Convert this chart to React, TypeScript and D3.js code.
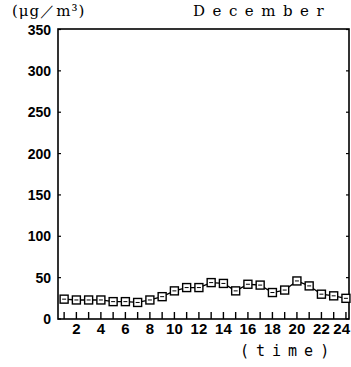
import React from "react";
import * as d3 from "d3";

const hours = [1,2,3,4,5,6,7,8,9,10,11,12,13,14,15,16,17,18,19,20,21,22,23,24];
const values = [24,23,23,23,21,21,20,23,27,34,38,38,44,43,34,42,41,32,35,46,40,30,28,25];
const yTicks = [0,50,100,150,200,250,300,350];
const xTickLabels = [2,4,6,8,10,12,14,16,18,20,22,24];

export default function App() {
  const W = 351, H = 367;
  const left = 58, right = 349, top = 29, bottom = 319;
  const x = d3.scaleLinear().domain([0.5, 24.25]).range([left, right]);
  const y = d3.scaleLinear().domain([0, 350]).range([bottom, top + 0.5]);
  const line = d3.line<number>().x((_, i) => x(hours[i])).y((d) => y(d));
  const font = "Liberation Sans, Arial, sans-serif";
  return (
    <svg width={W} height={H} style={{ position: "absolute", left: 0, top: 0, background: "#fff" }}>
      <rect x={left} y={top} width={right - left} height={bottom - top} fill="none" stroke="#000" strokeWidth={1.6} />
      {yTicks.map((t) => (
        <g key={t}>
          <line x1={left} x2={left + 3} y1={y(t)} y2={y(t)} stroke="#000" strokeWidth={1.2} />
          <line x1={right - 3} x2={right} y1={y(t)} y2={y(t)} stroke="#000" strokeWidth={1.2} />
          <text x={51} y={y(t) + 5} textAnchor="end" fontFamily={font} fontWeight="bold" fontSize={14} fill="#000">{t}</text>
        </g>
      ))}
      {hours.map((h) => (
        <line key={h} x1={x(h)} x2={x(h)} y1={bottom} y2={bottom - 7} stroke="#000" strokeWidth={1.4} />
      ))}
      {xTickLabels.map((t) => (
        <text key={t} x={t === 24 ? 350 : x(t)} y={334} textAnchor={t === 24 ? "end" : "middle"} fontFamily="Liberation Sans Narrow, Liberation Sans, Arial, sans-serif" fontWeight="bold" fontSize={15} fill="#000">{t}</text>
      ))}
      <path d={line(values) || ""} fill="none" stroke="#000" strokeWidth={1.3} />
      {values.map((v, i) => (
        <g key={i}>
          <rect x={x(hours[i]) - 4} y={y(v) - 4} width={8} height={8} fill="#fff" stroke="#000" strokeWidth={1.4} />
          <line x1={x(hours[i]) - 2} x2={x(hours[i]) + 2} y1={y(v)} y2={y(v)} stroke="#000" strokeWidth={1} />
        </g>
      ))}
      <text x={12} y={16} fontFamily="DejaVu Serif, serif" fontSize={15} letterSpacing={1} fill="#000">(μg／m³)</text>
      <text x={193} y={16} fontFamily="DejaVu Serif, serif" fontSize={15} letterSpacing={7.5} fill="#000">December</text>
      <text x={240} y={356} fontFamily="DejaVu Sans Mono, monospace" fontSize={15} letterSpacing={7} fill="#000">(time)</text>
    </svg>
  );
}
